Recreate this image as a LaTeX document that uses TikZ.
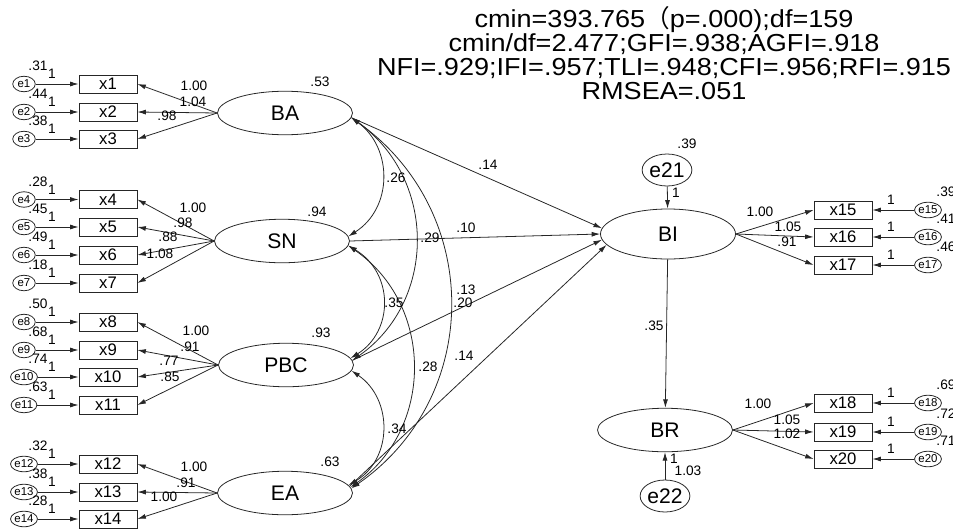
\documentclass[tikz,border=0pt]{standalone}
\usepackage{fontspec}
\setmainfont{Liberation Sans}
\newfontfamily\titlefont{Liberation Sans}[FakeStretch=1.1]
\newfontfamily\cjkfont{Noto Sans CJK SC}
\usetikzlibrary{shapes.geometric,arrows.meta}

\tikzset{
  >={Latex[length=4.8pt,width=2.8pt]},
  latent/.style={draw,ellipse,inner sep=0pt,minimum width=27mm,minimum height=8.7mm,font=\fontsize{12}{14}\selectfont},
  obs/.style={draw,rectangle,inner sep=0pt,minimum width=11.6mm,minimum height=3.6mm,font=\fontsize{9.5}{11}\selectfont},
  err/.style={draw,ellipse,inner sep=0pt,minimum width=4.5mm,minimum height=3.1mm,font=\fontsize{6.5}{7}\selectfont},
  bigerr/.style={draw,ellipse,inner sep=0pt,minimum width=7.2mm,minimum height=6.4mm,font=\fontsize{12}{14}\selectfont},
  val/.style={inner sep=0pt,font=\fontsize{7.8}{9}\selectfont},
  arr/.style={->},
  cov/.style={<->}
}

\begin{document}
\begin{tikzpicture}[x=0.2mm,y=-0.2mm,line width=0.45pt,draw=black!85]
\useasboundingbox (0,0) rectangle (953,529);

% fit indices
\node (fit) [align=center,inner sep=0pt,font=\titlefont\fontsize{14}{13.6}\selectfont] at (664,53)
  {cmin=393.765{\cjkfont （}p=.000);df=159\\cmin/df=2.477;GFI=.938;AGFI=.918\\NFI=.929;IFI=.957;TLI=.948;CFI=.956;RFI=.915\\RMSEA=.051};

% latent variables
\node[latent] (BA) at (285,113) {BA};
\node[latent] (SN) at (282,241) {SN};
\node[latent] (PBC) at (286,365) {PBC};
\node[latent] (EA) at (285,493) {EA};
\node[latent,minimum height=10mm] (BI) at (668,234) {BI};
\node[latent] (BR) at (665,430) {BR};
\node[bigerr] (e21) at (667,170) {e21};
\node[bigerr] (e22) at (665,496) {e22};

\node[val] at (320,82) {.53};
\node[val] at (317,212) {.94};
\node[val] at (321,333) {.93};
\node[val] at (330,462) {.63};
\node[val] at (687,144) {.39};

% indicators, left
\foreach \i/\y/\v in {1/84/.31,2/112/.44,3/139/.38,4/199.5/.28,5/227/.45,6/255/.49,7/283/.18,
    8/322/.50,9/350/.68,10/377/.74,11/405/.63,12/464/.32,13/492/.38,14/519/.28}{
  \node[obs] (x\i) at (108,\y) {x\i};
  \node[err] (e\i) at (24,\y) {e\i};
  \draw[arr] (e\i) -- (x\i);
  \node[val] at (38,\y-18) {\v};
  \node[val] at (52,\y-10) {1};
}
% indicators, right
\foreach \i/\y/\v in {15/210/.39,16/237/.41,17/265/.46,18/403/.69,19/432/.72,20/459/.71}{
  \node[obs] (x\i) at (843,\y) {x\i};
  \node[err] (e\i) at (928,\y) {e\i};
  \draw[arr] (e\i) -- (x\i);
  \node[val] at (946,\y-18) {\v};
  \node[val] at (891,\y-10) {1};
}

% loadings
\foreach \i in {1,2,3} \draw[arr] (BA.west) -- (x\i.east);
\foreach \i in {4,...,7} \draw[arr] (SN.west) -- (x\i.east);
\foreach \i in {8,...,11} \draw[arr] (PBC.west) -- (x\i.east);
\foreach \i in {12,13,14} \draw[arr] (EA.west) -- (x\i.east);
\foreach \i in {15,16,17} \draw[arr] (BI.east) -- (x\i.west);
\foreach \i in {18,19,20} \draw[arr] (BR.east) -- (x\i.west);

\node[val] at (194,86) {1.00};
\node[val] at (193,102) {1.04};
\node[val] at (167,116) {.98};
\node[val] at (193,208) {1.00};
\node[val] at (183,223) {.98};
\node[val] at (168,237) {.88};
\node[val] at (160,254) {1.08};
\node[val] at (196,331) {1.00};
\node[val] at (190,347) {.91};
\node[val] at (169,361) {.77};
\node[val] at (170,377) {.85};
\node[val] at (194,467) {1.00};
\node[val] at (186,483) {.91};
\node[val] at (164,497) {1.00};
\node[val] at (760,212) {1.00};
\node[val] at (788,227) {1.05};
\node[val] at (787,242) {.91};
\node[val] at (758,404) {1.00};
\node[val] at (787,420) {1.05};
\node[val] at (787,434) {1.02};

% covariances
\draw[cov] (BA.-4) .. controls (393,148) and (393,208) .. (SN.4);
\draw[cov] (BA.-4) .. controls (437,179) and (437,301) .. (PBC.4);
\draw[cov] (BA.-4) .. controls (483,211) and (483,397) .. (EA.4);
\draw[cov] (SN.-4) .. controls (394,273) and (394,331) .. (PBC.6);
\draw[cov] (SN.-4) .. controls (434,305) and (434,428) .. (EA.5);
\draw[cov] (PBC.-5) .. controls (393,399) and (393,459) .. (EA.7);
\node[val] at (396,178) {.26};
\node[val] at (430,238) {.29};
\node[val] at (394,303) {.35};
\node[val] at (428,367) {.28};
\node[val] at (397,429) {.34};

% structural paths
\draw[arr] (BA.-4) -- (BI.175);
\draw[arr] (SN.east) -- (BI.west);
\draw[arr] (PBC.4) -- (BI.185);
\draw[arr] (EA.6) -- (BI.190);
\draw[arr] (e21) -- (BI);
\draw[arr] (BI) -- (BR);
\draw[arr] (e22) -- (BR);
\node[val] at (488,165) {.14};
\node[val] at (466,228) {.10};
\node[val] at (466,290) {.13};
\node[val] at (463,303) {.20};
\node[val] at (464,356) {.14};
\node[val] at (676,193) {1};
\node[val] at (654,326) {.35};
\node[val] at (674,459) {1};
\node[val] at (688,471) {1.03};

\end{tikzpicture}
\end{document}
